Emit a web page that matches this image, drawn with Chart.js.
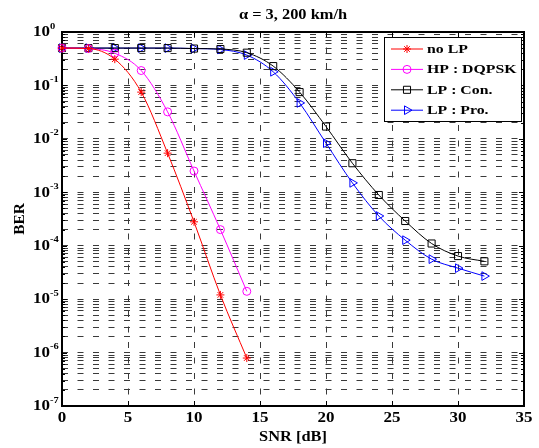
<!DOCTYPE html>
<html><head><meta charset="utf-8">
<script src="https://cdn.jsdelivr.net/npm/chart.js@4/dist/chart.umd.min.js"></script>
<style>html,body{margin:0;padding:0;background:#fff;}#wrap{width:539px;height:448px;}</style>
</head><body><div id="wrap"><canvas id="c" width="539" height="448"></canvas></div>
<script>
// ---- data ----
const titleText = 'α = 3, 200 km/h';
const xLabel = 'SNR [dB]';
const yLabel = 'BER';
const seriesLabels = ['no LP', 'HP : DQPSK', 'LP : Con.', 'LP : Pro.'];
const snrShort = [0, 2, 4, 6, 8, 10, 12, 14];
const snrLong = [0, 2, 4, 6, 8, 10, 12, 14, 16, 18, 20, 22, 24, 26, 28, 30, 32];
const berNoLP = [0.5, 0.49, 0.31, 0.075, 5.4e-3, 2.8e-4, 1.2e-5, 7.9e-7];
const berHP = [0.5, 0.49, 0.40, 0.19, 0.032, 2.5e-3, 2.0e-4, 1.4e-5];
const berLPCon = [0.5, 0.5, 0.5, 0.5, 0.5, 0.49, 0.48, 0.41, 0.23, 0.075, 0.017, 3.5e-3, 8.9e-4, 2.9e-4, 1.1e-4, 6.4e-5, 5.1e-5];
const berLPPro = [0.5, 0.5, 0.5, 0.5, 0.5, 0.49, 0.47, 0.37, 0.18, 0.047, 8.3e-3, 1.5e-3, 3.6e-4, 1.27e-4, 5.6e-5, 3.8e-5, 2.7e-5];
const xTickValues = [0, 5, 10, 15, 20, 25, 30, 35];
const yTickExponents = [0, -1, -2, -3, -4, -5, -6, -7];
const yTickBase = '10';

// ---- helpers ----
const FONT = '"Liberation Serif", "Times New Roman", serif';
const SX = 1.17;
function txt(ctx, s, x, y, size, align, baseline, sx, rot) {
  ctx.save();
  ctx.translate(x, y);
  if (rot) ctx.rotate(rot);
  ctx.scale(sx, 1);
  ctx.font = 'bold ' + size + 'px ' + FONT;
  ctx.textAlign = align;
  ctx.textBaseline = baseline;
  ctx.fillStyle = '#000';
  ctx.fillText(s, 0, 0);
  ctx.restore();
}
function pts(xs, ys) { return xs.map((x, i) => ({x: x, y: ys[i]})); }
function marker(ctx, ds, x, y) {
  ctx.save();
  ctx.strokeStyle = ds.borderColor;
  ctx.lineWidth = 1;
  const r = ds.pointRadius;
  ctx.beginPath();
  if (ds.pointStyle === 'star') {
    ctx.moveTo(x - r, y); ctx.lineTo(x + r, y);
    ctx.moveTo(x, y - r); ctx.lineTo(x, y + r);
    const d = r * Math.SQRT1_2;
    ctx.moveTo(x - d, y - d); ctx.lineTo(x + d, y + d);
    ctx.moveTo(x - d, y + d); ctx.lineTo(x + d, y - d);
  } else if (ds.pointStyle === 'circle') {
    ctx.arc(x, y, r, 0, Math.PI * 2);
  } else if (ds.pointStyle === 'rect') {
    const s = r * Math.SQRT1_2;
    ctx.rect(x - s, y - s, 2 * s, 2 * s);
  } else if (ds.pointStyle === 'triangle') {
    let a = (ds.pointRotation || 0) * Math.PI / 180;
    for (let k = 0; k < 3; k++) {
      const px = x + Math.sin(a) * r, py = y - Math.cos(a) * r;
      if (k === 0) ctx.moveTo(px, py); else ctx.lineTo(px, py);
      a += 2 * Math.PI / 3;
    }
    ctx.closePath();
  }
  ctx.stroke();
  ctx.restore();
}

const yGridValues = [];
for (let e = -7; e < 0; e++) for (let m = 1; m <= 9; m++) yGridValues.push(m * Math.pow(10, e));
yGridValues.push(1);

const gridColor = '#3a3a3a';
const dash = [6, 9.5];

const deco = {
  id: 'deco',
  beforeDraw(chart) {
    const ctx = chart.ctx;
    ctx.save(); ctx.fillStyle = '#fff'; ctx.fillRect(0, 0, chart.width, chart.height); ctx.restore();
  },
  beforeDatasetsDraw(chart) {
    const ctx = chart.ctx, a = chart.chartArea;
    const xs = chart.scales.x, ys = chart.scales.y;
    ctx.save();
    ctx.strokeStyle = '#000';
    ctx.lineWidth = 1;
    ctx.beginPath();
    xTickValues.forEach(v => {
      const px = Math.round(xs.getPixelForValue(v)) + 0.5;
      ctx.moveTo(px, a.bottom); ctx.lineTo(px, a.bottom - 5);
      ctx.moveTo(px, a.top); ctx.lineTo(px, a.top + 5);
    });
    yGridValues.forEach(v => {
      const py = Math.round(ys.getPixelForValue(v)) + 0.5;
      const isMaj = Math.abs(Math.log10(v) - Math.round(Math.log10(v))) < 1e-9;
      const L = isMaj ? 5 : 3;
      ctx.moveTo(a.left, py); ctx.lineTo(a.left + L, py);
      ctx.moveTo(a.right, py); ctx.lineTo(a.right - L, py);
    });
    ctx.stroke();
    ctx.lineWidth = 2;
    ctx.strokeRect(a.left, a.top, a.right - a.left, a.bottom - a.top);
    ctx.restore();
  },
  afterDraw(chart) {
    const ctx = chart.ctx, a = chart.chartArea;
    const xs = chart.scales.x, ys = chart.scales.y;
    const cx = (a.left + a.right) / 2;
    // title
    txt(ctx, titleText, cx, 15, 14, 'center', 'middle', SX);
    // x tick labels
    xTickValues.forEach(v => txt(ctx, String(v), xs.getPixelForValue(v), 418.5, 14.5, 'center', 'middle', SX));
    // y tick labels
    yTickExponents.forEach(e => {
      const py = ys.getPixelForValue(Math.pow(10, e));
      txt(ctx, yTickBase, 50, py + 0.5, 14.5, 'right', 'middle', SX);
      txt(ctx, String(e), 50, py - 3.5, 9, 'left', 'alphabetic', SX);
    });
    // axis labels
    txt(ctx, xLabel, cx, 437, 14, 'center', 'middle', SX);
    txt(ctx, yLabel, 20, (a.top + a.bottom) / 2, 14, 'center', 'middle', 1.1, -Math.PI / 2);
    // legend
    const L = {x: 384, y: 37, w: 137, h: 84};
    ctx.save();
    ctx.fillStyle = '#fff';
    ctx.fillRect(L.x, L.y, L.w, L.h);
    ctx.strokeStyle = '#000'; ctx.lineWidth = 1;
    ctx.strokeRect(L.x + 0.5, L.y + 0.5, L.w, L.h);
    ctx.restore();
    chart.data.datasets.forEach((ds, i) => {
      const ry = 49 + i * 20.4;
      ctx.save();
      ctx.strokeStyle = ds.borderColor; ctx.lineWidth = 1;
      ctx.beginPath(); ctx.moveTo(391, ry); ctx.lineTo(423, ry); ctx.stroke();
      ctx.restore();
      marker(ctx, ds, 407, ry);
      txt(ctx, ds.label, 427, ry + 0.5, 13.5, 'left', 'middle', SX);
    });
  }
};

const common = {borderWidth: 1, pointBorderWidth: 1, pointBackgroundColor: 'rgba(0,0,0,0)', fill: false, clip: false, cubicInterpolationMode: 'monotone', pointHoverRadius: 0};

new Chart(document.getElementById('c'), {
  type: 'line',
  data: {
    datasets: [
      Object.assign({}, common, {label: seriesLabels[0], data: pts(snrShort, berNoLP), borderColor: '#ff0000', pointBorderColor: '#ff0000', pointStyle: 'star', pointRadius: 4}),
      Object.assign({}, common, {label: seriesLabels[1], data: pts(snrShort, berHP), borderColor: '#ff00ff', pointBorderColor: '#ff00ff', pointStyle: 'circle', pointRadius: 4}),
      Object.assign({}, common, {label: seriesLabels[2], data: pts(snrLong, berLPCon), borderColor: '#000000', pointBorderColor: '#000000', pointStyle: 'rect', pointRadius: 5}),
      Object.assign({}, common, {label: seriesLabels[3], data: pts(snrLong, berLPPro), borderColor: '#0000ff', pointBorderColor: '#0000ff', pointStyle: 'triangle', pointRotation: 90, pointRadius: 5})
    ]
  },
  options: {
    responsive: false,
    animation: false,
    devicePixelRatio: 1,
    events: [],
    layout: {padding: {left: 62, top: 32, right: 15, bottom: 42}},
    plugins: {legend: {display: false}, title: {display: false}, tooltip: {enabled: false}},
    scales: {
      x: {
        type: 'linear', min: 0, max: 35,
        ticks: {display: false},
        afterBuildTicks: s => { s.ticks = xTickValues.map(v => ({value: v})); },
        grid: {color: gridColor, lineWidth: 1, drawTicks: false, borderDash: dash},
        border: {display: false, dash: dash}
      },
      y: {
        type: 'logarithmic', min: 1e-7, max: 1,
        ticks: {display: false},
        afterBuildTicks: s => { s.ticks = yGridValues.map(v => ({value: v})); },
        grid: {color: gridColor, lineWidth: 1, drawTicks: false, borderDash: dash},
        border: {display: false, dash: dash}
      }
    }
  },
  plugins: [deco]
});
</script></body></html>
